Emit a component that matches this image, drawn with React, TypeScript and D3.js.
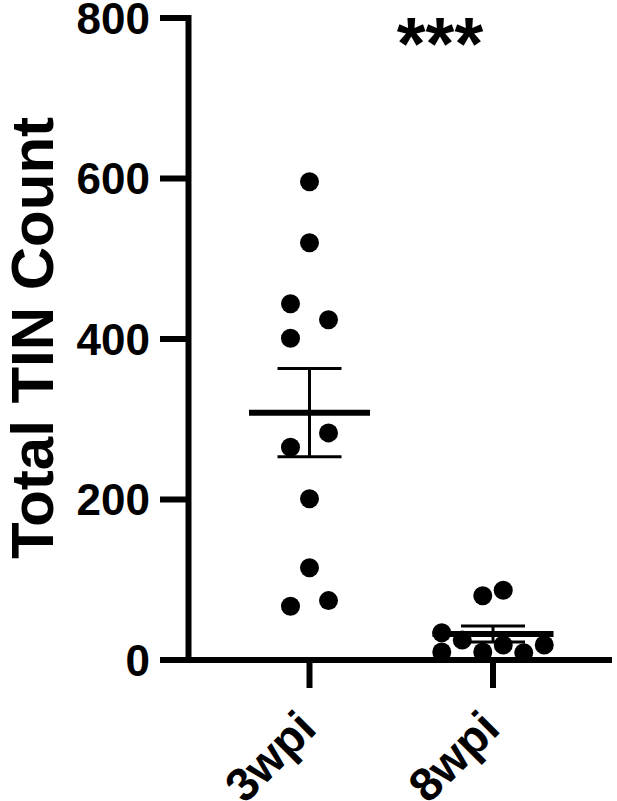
import React from "react";
import * as d3 from "d3";

const categories = ["3wpi", "8wpi"];
const values3wpi = [596, 520, 444, 424, 401, 283, 265, 201, 115, 74, 67];
const slots3wpi = [0, 0, -1, 1, -1, 1, -1, 0, 0, 1, -1];
const values8wpi = [80, 87, 34, 25, 10, 10, 18.7, 9, 18.7];
const slots8wpi = [-0.5, 0.5, -2.5, -1.5, -2.5, -0.5, 0.5, 1.5, 2.5];
const yTicks = [0, 200, 400, 600, 800];
const yLabel = "Total TIN Count";
const significance = "***";

const groups = [
  { name: categories[0], values: values3wpi, slots: slots3wpi, slotW: 19 },
  { name: categories[1], values: values8wpi, slots: slots8wpi, slotW: 20.5 },
];

const FONT = "Arial, 'Liberation Sans', Helvetica, sans-serif";

export default function App() {
  const W = 617;
  const H = 801;
  const axisX = 188.5;
  const axisY = 660;
  const y = d3.scaleLinear().domain([0, 800]).range([axisY, 18]);
  const x = d3.scalePoint<string>().domain(categories).range([309.5, 493]);

  const stats = groups.map((g) => {
    const m = d3.mean(g.values) as number;
    const sd = d3.deviation(g.values) as number;
    return { mean: m, sem: sd / Math.sqrt(g.values.length) };
  });

  return (
    <svg
      width={W}
      height={H}
      style={{ position: "absolute", left: 0, top: 0, background: "#fff" }}
      fontFamily={FONT}
    >
      {/* y axis */}
      <line x1={axisX} x2={axisX} y1={y(800) - 3} y2={axisY + 3} stroke="#000" strokeWidth={6} />
      {yTicks.map((t) => (
        <g key={t}>
          <line x1={160} x2={axisX} y1={y(t)} y2={y(t)} stroke="#000" strokeWidth={6} />
          <text
            x={150}
            y={y(t)}
            textAnchor="end"
            dominantBaseline="central"
            fontSize={44}
            fontWeight="bold"
          >
            {t}
          </text>
        </g>
      ))}
      {/* x axis */}
      <line x1={axisX - 3} x2={612} y1={axisY} y2={axisY} stroke="#000" strokeWidth={6} />
      {categories.map((c) => (
        <g key={c}>
          <line x1={x(c)} x2={x(c)} y1={axisY} y2={688} stroke="#000" strokeWidth={6} />
          <text
            transform={`translate(${(x(c) as number) + 9},${731}) rotate(-45)`}
            textAnchor="end"
            fontSize={47}
            fontWeight="bold"
          >
            {c}
          </text>
        </g>
      ))}
      {/* y label */}
      <text
        transform={`translate(53,338) rotate(-90)`}
        textAnchor="middle"
        fontSize={60}
        fontWeight="bold"
      >
        {yLabel}
      </text>
      {/* dots */}
      {groups.map((g) =>
        g.values.map((v, i) => (
          <circle
            key={g.name + i}
            cx={(x(g.name) as number) + g.slots[i] * g.slotW}
            cy={y(v)}
            r={9.5}
            fill="#000"
          />
        ))
      )}
      {/* mean and SEM */}
      {groups.map((g, i) => {
        const cx = x(g.name) as number;
        const s = stats[i];
        return (
          <g key={"s" + g.name}>
            <line x1={cx} x2={cx} y1={y(s.mean + s.sem)} y2={y(s.mean - s.sem)} stroke="#000" strokeWidth={3} />
            <line x1={cx - 32} x2={cx + 32} y1={y(s.mean + s.sem)} y2={y(s.mean + s.sem)} stroke="#000" strokeWidth={3} />
            <line x1={cx - 32} x2={cx + 32} y1={y(s.mean - s.sem)} y2={y(s.mean - s.sem)} stroke="#000" strokeWidth={3} />
            <line x1={cx - 60.5} x2={cx + 60.5} y1={y(s.mean)} y2={y(s.mean)} stroke="#000" strokeWidth={6} />
          </g>
        );
      })}
      {/* significance */}
      <text x={440} y={69} textAnchor="middle" fontSize={74} fontWeight="bold">
        {significance}
      </text>
    </svg>
  );
}
